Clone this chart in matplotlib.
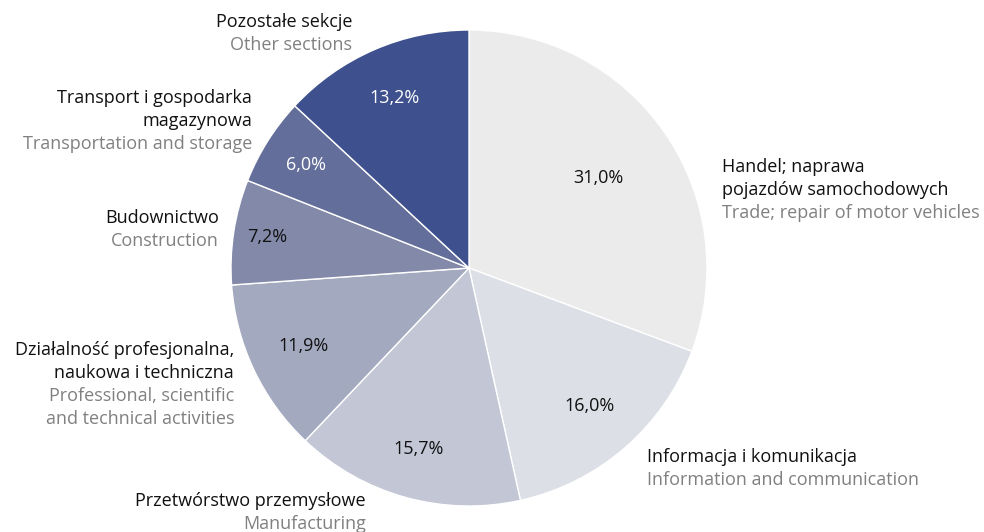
import matplotlib.pyplot as plt
import numpy as np

plt.rcParams['font.family'] = ['Open Sans', 'DejaVu Sans']

# shares of sections, clockwise from 12 o'clock
shares = [31.0, 16.0, 15.7, 11.9, 7.2, 6.0, 13.2]
pct_labels = ['31,0%', '16,0%', '15,7%', '11,9%', '7,2%', '6,0%', '13,2%']
names_pl = [
    ['Handel; naprawa', 'pojazdów samochodowych'],
    ['Informacja i komunikacja'],
    ['Przetwórstwo przemysłowe'],
    ['Działalność profesjonalna,', 'naukowa i techniczna'],
    ['Budownictwo'],
    ['Transport i gospodarka', 'magazynowa'],
    ['Pozostałe sekcje'],
]
names_en = [
    ['Trade; repair of motor vehicles'],
    ['Information and communication'],
    ['Manufacturing'],
    ['Professional, scientific', 'and technical activities'],
    ['Construction'],
    ['Transportation and storage'],
    ['Other sections'],
]

colors = ['#ebebeb', '#dcdfe6', '#c2c6d5', '#a3a9bf', '#8389a8', '#636f9a', '#3e518e']
pct_colors = ['#111111'] * 5 + ['white', 'white']
pct_radius = [0.66, 0.77, 0.79, 0.77, 0.86, 0.81, 0.78]

# label anchor (x, top line y) in pixel layout, and alignment
label_pos = [(722, 167, 'left'), (647, 457, 'left'), (366, 501, 'right'),
             (234, 350, 'right'), (219, 218, 'right'), (252, 98, 'right'),
             (352, 22, 'right')]

W, H = 984, 532
fig = plt.figure(figsize=(W / 100, H / 100), dpi=100)
ax = fig.add_axes([0, 0, 1, 1])

cx, cy, r = 469, H - 268, 238
wedges, _ = ax.pie(shares, colors=colors, startangle=90, counterclock=False,
                   center=(cx, cy), radius=r, frame=True,
                   wedgeprops=dict(edgecolor='white', linewidth=1))
ax.set_xlim(0, W)
ax.set_ylim(0, H)
ax.set_aspect('equal')
ax.axis('off')

fs = 13
step = 23
for w, txt, col, k in zip(wedges, pct_labels, pct_colors, pct_radius):
    ang = np.deg2rad((w.theta1 + w.theta2) / 2)
    ax.text(cx + k * r * np.cos(ang), cy + k * r * np.sin(ang), txt,
            ha='center', va='center', fontsize=fs, color=col)

for pl, en, (x, y, ha) in zip(names_pl, names_en, label_pos):
    lines = [(s, '#111111') for s in pl] + [(s, '#808080') for s in en]
    for i, (s, c) in enumerate(lines):
        ax.text(x, H - (y + i * step), s, ha=ha, va='center',
                fontsize=fs, color=c)

fig.savefig('out.png', dpi=100)
